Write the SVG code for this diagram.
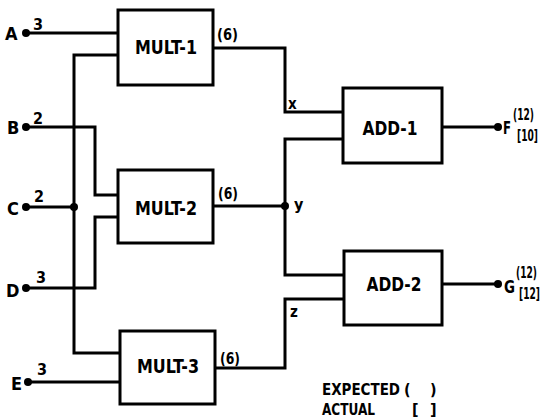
<svg xmlns="http://www.w3.org/2000/svg" width="554" height="419" viewBox="0 0 554 419">
<style>
.box{fill:#fff;stroke:#000;stroke-width:3}
.w{fill:none;stroke:#000;stroke-width:3;stroke-linejoin:miter;stroke-linecap:square}
.t{font-family:"DejaVu Sans Condensed","DejaVu Sans",sans-serif;font-weight:bold;fill:#000}
.dot{fill:#000}
</style>
<rect width="554" height="419" fill="#fff"/>
<g id="connectors">
<path class="w" d="M26 33H118"/>
<path class="w" d="M118 55H74V353H120"/>
<path class="w" d="M26 127H95V195H118"/>
<path class="w" d="M26 207H74"/>
<path class="w" d="M26 288H95V217H118"/>
<path class="w" d="M28 382H120"/>
<path class="w" d="M213 48H285V112H343"/>
<path class="w" d="M343 139H285V275H344"/>
<path class="w" d="M213 206H285"/>
<path class="w" d="M215 368H285V299H344"/>
<path class="w" d="M442 127H498"/>
<path class="w" d="M442 284H498"/>
<circle class="dot" cx="74" cy="207" r="4"/>
<circle class="dot" cx="285" cy="206" r="4"/>
<text class="t" x="288" y="109" font-size="15">x</text>
<text class="t" x="294" y="210" font-size="16">y</text>
<text class="t" x="290" y="317" font-size="15">z</text>
<text class="t" x="217" y="40" font-size="16" textLength="21" lengthAdjust="spacingAndGlyphs">(6)</text>
<text class="t" x="218" y="199" font-size="16" textLength="20" lengthAdjust="spacingAndGlyphs">(6)</text>
<text class="t" x="220" y="364" font-size="16" textLength="20" lengthAdjust="spacingAndGlyphs">(6)</text>
</g>
<g id="A"><circle class="dot" cx="26" cy="33" r="4"/><text class="t" x="5" y="40" font-size="18">A</text><text class="t" x="33" y="30" font-size="16">3</text></g>
<g id="B"><circle class="dot" cx="26" cy="127" r="4"/><text class="t" x="7" y="134" font-size="18">B</text><text class="t" x="33" y="124" font-size="16">2</text></g>
<g id="C"><circle class="dot" cx="26" cy="207" r="4"/><text class="t" x="7" y="215" font-size="18">C</text><text class="t" x="34" y="202" font-size="16">2</text></g>
<g id="D"><circle class="dot" cx="26" cy="288" r="4"/><text class="t" x="6" y="297" font-size="18">D</text><text class="t" x="36" y="283" font-size="16">3</text></g>
<g id="E"><circle class="dot" cx="28" cy="382" r="4"/><text class="t" x="11" y="390" font-size="18">E</text><text class="t" x="37" y="375" font-size="16">3</text></g>
<g id="MULT-1"><rect class="box" x="118" y="10" width="95" height="75"/><text class="t" x="166" y="54" font-size="20" text-anchor="middle" textLength="62" lengthAdjust="spacingAndGlyphs">MULT-1</text></g>
<g id="MULT-2"><rect class="box" x="118" y="170" width="95" height="73"/><text class="t" x="166" y="215" font-size="20" text-anchor="middle" textLength="62" lengthAdjust="spacingAndGlyphs">MULT-2</text></g>
<g id="MULT-3"><rect class="box" x="120" y="331" width="95" height="73"/><text class="t" x="168" y="373" font-size="20" text-anchor="middle" textLength="62" lengthAdjust="spacingAndGlyphs">MULT-3</text></g>
<g id="ADD-1"><rect class="box" x="343" y="88" width="99" height="75"/><text class="t" x="390" y="135" font-size="20" text-anchor="middle" textLength="55" lengthAdjust="spacingAndGlyphs">ADD-1</text></g>
<g id="ADD-2"><rect class="box" x="344" y="251" width="98" height="74"/><text class="t" x="394" y="291" font-size="20" text-anchor="middle" textLength="55" lengthAdjust="spacingAndGlyphs">ADD-2</text></g>
<g id="F"><circle class="dot" cx="498" cy="127" r="4"/><text class="t" x="503" y="134" font-size="17" textLength="8" lengthAdjust="spacingAndGlyphs">F</text><text class="t" x="513" y="120" font-size="15" textLength="21" lengthAdjust="spacingAndGlyphs">(12)</text><text class="t" x="517" y="141" font-size="15" textLength="21" lengthAdjust="spacingAndGlyphs">[10]</text></g>
<g id="G"><circle class="dot" cx="498" cy="284" r="4"/><text class="t" x="504" y="293" font-size="17" textLength="11" lengthAdjust="spacingAndGlyphs">G</text><text class="t" x="516" y="278" font-size="15" textLength="21" lengthAdjust="spacingAndGlyphs">(12)</text><text class="t" x="519" y="299" font-size="15" textLength="21" lengthAdjust="spacingAndGlyphs">[12]</text></g>
<g id="legend">
<text class="t" x="322" y="395" font-size="16"><tspan textLength="78" lengthAdjust="spacingAndGlyphs">EXPECTED</tspan><tspan x="404">(</tspan><tspan x="430">)</tspan></text>
<text class="t" x="322" y="415" font-size="16"><tspan textLength="53" lengthAdjust="spacingAndGlyphs">ACTUAL</tspan><tspan x="412">[</tspan><tspan x="430">]</tspan></text>
</g>
</svg>
